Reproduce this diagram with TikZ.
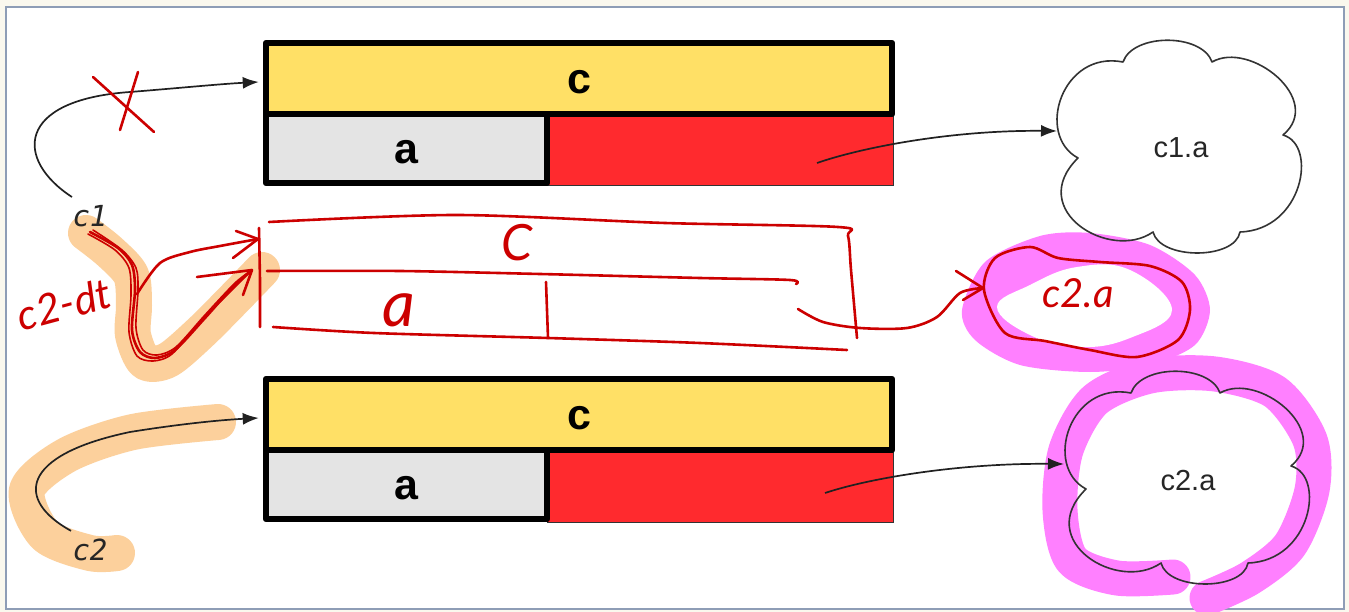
\documentclass[tikz,border=0pt]{standalone}
\usepackage{fontspec}
\setmainfont{Liberation Sans}
\newfontfamily\varfont{DejaVu Sans Mono}
\newfontfamily\handfont{Lato}
\usetikzlibrary{arrows.meta}

\definecolor{pagebg}{HTML}{FAF8EE}
\definecolor{framecol}{HTML}{8E9DB6}
\definecolor{cellyellow}{HTML}{FFE066}
\definecolor{cellgray}{HTML}{E4E4E4}
\definecolor{cellred}{HTML}{FF2A2E}
\definecolor{ink}{HTML}{CC0000}
\definecolor{peach}{HTML}{FCD09C}
\definecolor{markpink}{HTML}{FF80FF}

\tikzset{
  cell/.style={inner sep=0pt, text height=30pt, text depth=0pt,
    font=\bfseries\fontsize{43}{43}\selectfont},
  thickcell/.style={cell, draw=black, line width=6.5pt, line join=round},
  thincell/.style={cell, draw=black!80, line width=1pt},
  varname/.style={font=\varfont\itshape\fontsize{29}{29}\selectfont, text=black!85, inner sep=0pt},
  cloudtext/.style={font=\fontsize{29}{29}\selectfont, text=black!85, inner sep=0pt},
  cloudline/.style={draw=black!80, line width=1.6pt, line join=round},
  ptr/.style={draw=black!87, line width=1.7pt, -{Latex[length=16pt,width=12pt]}},
  pen/.style={draw=ink, line width=2.6pt, line cap=round, line join=round},
  handtext/.style={text=ink, inner sep=0pt, font=\handfont\itshape\fontsize{#1}{#1}\selectfont},
  peachmark/.style={draw=peach, line width=36pt, line cap=round, line join=round},
  pinkmark/.style={draw=markpink, line width=35pt, line cap=round, line join=round},
}

% outline of a cloud, notches at the six lobe joints
\newcommand{\cloudoutline}{%
  (1078,158) .. controls (1035,135) and (1062,50) .. (1123,62)
  .. controls (1133,33) and (1202,33) .. (1212,62)
  .. controls (1250,40) and (1325,100) .. (1283,135)
  .. controls (1318,145) and (1303,230) .. (1240,232)
  .. controls (1235,260) and (1160,260) .. (1153,232)
  .. controls (1110,262) and (1025,210) .. (1078,158) -- cycle}

\begin{document}
\begin{tikzpicture}[x=1pt,y=-1pt]
\useasboundingbox (0,0) rectangle (1349,612);
\fill[pagebg] (0,0) rectangle (1349,612);
\filldraw[fill=white, draw=framecol, line width=2.5pt] (6,7) rectangle (1344,609);

% highlighter strokes
\draw[peachmark] plot[smooth] coordinates {(86,233) (110,252) (131,275) (134,305) (133,335) (145,362) (168,360) (200,333) (233,300) (262,270)};
\draw[peachmark] plot[smooth] coordinates {(218,422) (133,432) (67,455) (27,490) (45,535) (90,553) (117,553)};
\fill[markpink] plot[smooth cycle] coordinates {(962,310) (985,262) (1040,236) (1090,233) (1150,245) (1195,275) (1210,310) (1195,345) (1150,365) (1090,372) (1020,365) (975,340)};
\fill[white] plot[smooth cycle, tension=0.7] coordinates {(997,307) (1030,285) (1077,267) (1130,270) (1172,310) (1130,338) (1080,347) (1030,335)};
\draw[pinkmark] plot[smooth] coordinates {(1173,577) (1117,578) (1072,560) (1060,510) (1066,450) (1095,400) (1150,376) (1215,374) (1275,392) (1310,440) (1312,490) (1290,545) (1250,578) (1207,598)};

% first struct
\node[thincell, fill=cellred, minimum width=346pt, minimum height=70pt] (red1) at (720,151) {};
\node[thickcell, fill=cellgray, minimum width=281pt, minimum height=69pt] (gray1) at (406.5,148.5) {a};
\node[thickcell, fill=cellyellow, minimum width=626pt, minimum height=71pt] (yellow1) at (579,78.5) {c};

% second struct
\node[thincell, fill=cellred, minimum width=346pt, minimum height=70pt] (red2) at (720,487) {};
\node[thickcell, fill=cellgray, minimum width=281pt, minimum height=69pt] (gray2) at (406.5,484.5) {a};
\node[thickcell, fill=cellyellow, minimum width=626pt, minimum height=71pt] (yellow2) at (579,414.5) {c};

% clouds
\draw[cloudline] \cloudoutline;
\begin{scope}[shift={(8,331)}]
  \draw[cloudline] \cloudoutline;
\end{scope}
\node[cloudtext] (cloud1) at (1181,148) {c1.a};
\node[cloudtext] (cloud2) at (1188,481) {c2.a};
\coordinate (c1in) at (1057,131);
\coordinate (c2in) at (1064,464);

% variables and pointers
\node[varname] (c1) at (90,216) {c1};
\node[varname] (c2) at (90,550) {c2};
\draw[ptr] ([shift={(-18,-8)}]c1.north) .. controls (15,160) and (15,100) .. (130,92)
  .. controls (180,88) and (220,84) .. ([shift={(-4,3.5)}]yellow1.west);
\draw[ptr] ([shift={(-19,-8)}]c2.north) .. controls (15,500) and (20,455) .. (130,432)
  .. controls (180,424) and (220,420) .. ([shift={(-4,3.5)}]yellow2.west);
\coordinate (r1s) at ([shift={(97,12)}]red1.center);
\coordinate (r2s) at ([shift={(105,6)}]red2.center);
\draw[ptr] (r1s) .. controls (860,148) and (950,130) .. (c1in);
\draw[ptr] (r2s) .. controls (870,478) and (960,463) .. (c2in);

% pen: crossed-out pointer
\draw[pen] (93,77) -- (154,132);
\draw[pen] (138,72) -- (120,130);

% pen: c2-dt pointer strands
\node[handtext=42, rotate=15] (c2dt) at (64,304) {c2-dt};
\draw[pen] plot[smooth] coordinates {(90,232) (118,248) (132,265) (135,290) (132,330) (140,352) (155,358) (175,350) (205,318) (232,288) (252,270)};
\draw[pen, line width=1.6pt] plot[smooth] coordinates {(93,230) (122,250) (136,268) (138,290) (136,328) (143,350) (157,355) (176,347) (205,315) (235,283) (252,270)};
\draw[pen, line width=1.6pt] plot[smooth] coordinates {(88,234) (115,250) (129,268) (131,295) (129,332) (137,356) (153,361) (172,354) (200,322) (230,292) (250,272)};
\draw[pen] (197,277) -- (252,270);
\draw[pen] (243,295) -- (252,270);
\draw[pen] plot[smooth] coordinates {(137,294) (160,263) (190,252) (220,246) (258,239)};
\draw[pen] (236,231) -- (258,239) -- (233,258);

% pen: sketched struct
\coordinate (sk) at (259,228);
\draw[pen] (sk) -- (260,280) -- (260,327);
\draw[pen] plot[smooth, tension=0.5] coordinates {(269,222) (457,215) (665,223) (838,227) (848,236) (851,270) (857,338)};
\draw[pen] plot[smooth] coordinates {(267,271) (400,271) (540,274) (700,278) (790,280) (796,284)};
\draw[pen] plot[smooth] coordinates {(273,327) (374,333) (548,338) (700,343) (847,350)};
\draw[pen] (546,282) -- (547,310) -- (548,338);
\node[handtext=50] (skc) at (517,243) {C};
\node[handtext=64] (ska) at (399,310) {a};
\draw[pen] plot[smooth] coordinates {(798,309) (823,322) (860,328) (907,328) (937,317) (960,293) (983,288)};
\draw[pen] (956,271) -- (983,288) -- (963,300);

% pen: loop around c2.a
\draw[pen] plot[smooth cycle] coordinates {(984,290) (995,258) (1030,247) (1058,258) (1100,262) (1150,266) (1182,282) (1190,310) (1178,340) (1137,357) (1090,350) (1045,341) (1005,333)};
\node[handtext=40] (c2a) at (1078,293) {c2.a};
\end{tikzpicture}
\end{document}
